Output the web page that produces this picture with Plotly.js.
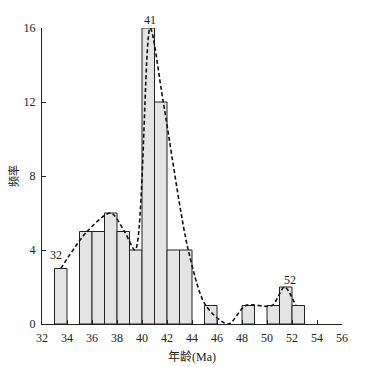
<!DOCTYPE html>
<html>
<head>
<meta charset="utf-8">
<script src="https://cdn.plot.ly/plotly-3.0.1.min.js"></script>
<style>
  html, body { margin: 0; padding: 0; background: #fff; }
  #chart { width: 365px; height: 367px; }
</style>
</head>
<body>
<div id="chart"></div>
<script>
// histogram bins (left edge, Ma) and counts
const binStart = [33, 35, 36, 37, 38, 39, 40, 41, 42, 43, 45, 48, 50, 51, 52];
const counts = [3, 5, 5, 6, 5, 4, 16, 12, 4, 4, 1, 1, 1, 2, 1];

// dashed envelope curve
const curveX = [33.5, 35.6, 37.5, 38.6, 39.45, 40.65, 41.7, 43.7, 45.1, 46.9, 48.3, 50.4, 51.4, 52.3];
const curveY = [3, 5, 6, 5, 4, 16, 12, 4, 1, 0, 1, 1, 2, 1];

// peak labels
const peakLabels = ["32", "41", "52"];
const peakX = [33.1, 40.65, 51.8];
const peakY = [3.75, 16, 2.4];
const peakShift = [0, 8, 0];

const xTicks = [32, 34, 36, 38, 40, 42, 44, 46, 48, 50, 52, 54, 56];
const yTicks = [0, 4, 8, 12, 16];

const serif = "'Liberation Serif', 'Noto Sans CJK SC', serif";

const notes = peakLabels.map((t, i) => ({
  x: peakX[i],
  y: peakY[i],
  yshift: peakShift[i],
  text: t,
  showarrow: false,
  font: { family: serif, size: 12, color: "#222" }
}));

// y axis title, placed by hand to sit where the original has it
notes.push({
  xref: "paper", yref: "paper",
  x: 0, y: 0.5,
  xanchor: "center", yanchor: "middle",
  xshift: -29,
  text: "频率",
  textangle: -90,
  showarrow: false,
  font: { family: serif, size: 11, color: "#222" }
});

Plotly.newPlot(
  "chart",
  [
    {
      type: "bar",
      x: binStart,
      y: counts,
      width: 1,
      offset: 0,
      marker: { color: "#e4e4e4", line: { color: "#222", width: 1 } },
      hoverinfo: "skip"
    },
    {
      type: "scatter",
      mode: "lines",
      x: curveX,
      y: curveY,
      line: { color: "#111", width: 1.6, dash: "4px,2.5px", shape: "spline", smoothing: 0.8 },
      cliponaxis: false,
      hoverinfo: "skip"
    }
  ],
  {
    width: 365,
    height: 367,
    showlegend: false,
    paper_bgcolor: "#fff",
    plot_bgcolor: "#fff",
    margin: { l: 42, r: 23, t: 28, b: 43 },
    font: { family: serif, size: 12, color: "#222" },
    xaxis: {
      range: [32, 56],
      tickvals: xTicks,
      ticktext: xTicks.map(String),
      ticks: "inside",
      ticklen: 4,
      tickcolor: "#222",
      showline: true,
      linecolor: "#222",
      linewidth: 1,
      showgrid: false,
      zeroline: false,
      ticklabelstandoff: 3,
      title: { text: "年龄(Ma)", font: { family: serif, size: 12 }, standoff: 8 }
    },
    yaxis: {
      range: [0, 16],
      tickvals: yTicks,
      ticktext: yTicks.map(String),
      ticks: "inside",
      ticklen: 4,
      tickcolor: "#222",
      showline: true,
      linecolor: "#222",
      linewidth: 1,
      showgrid: false,
      zeroline: false,
      ticklabelstandoff: 3
    },
    annotations: notes
  },
  { displayModeBar: false, staticPlot: true }
);
</script>
</body>
</html>
